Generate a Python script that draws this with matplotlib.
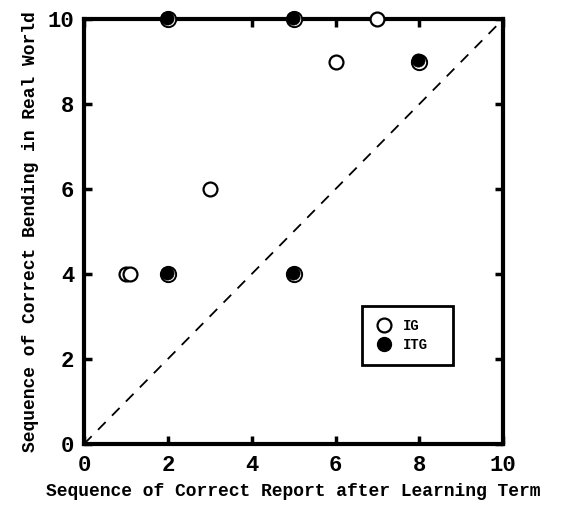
import matplotlib
matplotlib.use("Agg")
import matplotlib.pyplot as plt
import matplotlib.transforms as mtransforms
from matplotlib.lines import Line2D

# data
ig_x = [1.0, 1.1, 3, 6, 7]
ig_y = [4, 4, 6, 9, 10]
itg_x = [2, 5, 2, 5, 8]
itg_y = [10, 10, 4, 4, 9]
ticks = [0, 2, 4, 6, 8, 10]

plt.rcParams['font.family'] = ['Liberation Mono', 'DejaVu Sans Mono']

fig = plt.figure(figsize=(5.68, 5.15), dpi=100)
ax = fig.add_axes([0.148, 0.138, 0.738, 0.825])

ax.plot([0, 10], [0, 10], color='black', linestyle=(0, (6, 5)), linewidth=1.3, zorder=1)

ax.plot(ig_x, ig_y, linestyle='none', marker='o', markersize=10,
        markerfacecolor='white', markeredgecolor='black', markeredgewidth=1.6,
        clip_on=False, zorder=3)

# filled circles with a small white shine at lower right
ax.plot(itg_x, itg_y, linestyle='none', marker='o', markersize=11,
        markerfacecolor='white', markeredgecolor='black', markeredgewidth=1.4,
        clip_on=False, zorder=4)
shift = mtransforms.offset_copy(ax.transData, fig=fig, x=-0.8, y=0.8, units='points')
ax.plot(itg_x, itg_y, linestyle='none', marker='o', markersize=9.5,
        markerfacecolor='black', markeredgecolor='black', markeredgewidth=0.5,
        transform=shift, clip_on=False, zorder=5)

ax.set_xlim(0, 10)
ax.set_ylim(0, 10)
ax.set_xticks(ticks)
ax.set_yticks(ticks)
ax.tick_params(direction='in', length=6, width=2.5, top=True, right=True,
               labelsize=16)
ax.tick_params(axis='x', pad=8)
ax.tick_params(axis='y', pad=7)
for lab in ax.get_xticklabels() + ax.get_yticklabels():
    lab.set_fontweight('bold')
for s in ax.spines.values():
    s.set_linewidth(3)

ax.set_xlabel('Sequence of Correct Report after Learning Term', fontsize=13,
              fontweight='bold', labelpad=5)
ax.set_ylabel('Sequence of Correct Bending in Real World', fontsize=13,
              fontweight='bold', labelpad=6)

h1 = Line2D([], [], linestyle='none', marker='o', markersize=10,
            markerfacecolor='white', markeredgecolor='black', markeredgewidth=1.6)
h2 = Line2D([], [], linestyle='none', marker='o', markersize=10,
            markerfacecolor='black', markeredgecolor='black')
leg = ax.legend([h1, h2], ['IG', 'ITG'], loc='lower left',
                bbox_to_anchor=(0.663, 0.186, 0.217, 0.125), mode='expand',
                fancybox=False, framealpha=1, edgecolor='black',
                prop={'size': 10, 'weight': 'bold'}, handletextpad=0.8,
                handlelength=1.2, borderpad=0.95, labelspacing=0.35,
                borderaxespad=0)
leg.get_frame().set_linewidth(2)

fig.savefig('out.png', dpi=100)
